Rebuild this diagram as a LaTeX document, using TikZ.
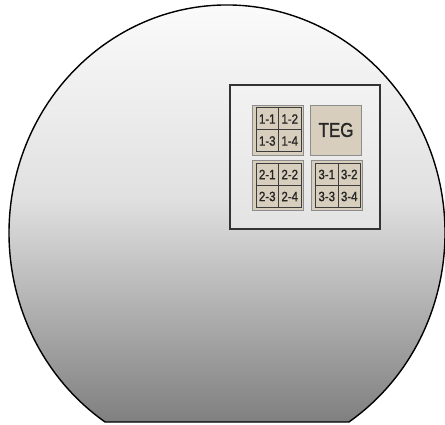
\documentclass[tikz,border=0pt]{standalone}
\usepackage{fontspec}
\setmainfont{Liberation Sans}
\newfontfamily\cellfont[FakeStretch=0.85, FakeBold=1.2]{Liberation Sans}
\usepackage{xcolor}
\usetikzlibrary{positioning, calc}
\definecolor{dietan}{RGB}{216,206,190}
\definecolor{gridline}{RGB}{60,60,60}

\begin{document}
\begin{tikzpicture}[
    x=1pt, y=1pt,
    node distance=0pt,
    wafer/.style={draw=black, line width=1.4pt, top color=white, bottom color=black!50, middle color=black!12},
    chip/.style={rectangle, draw=black!80, line width=1.4pt, top color=black!5, bottom color=black!11, minimum width=150pt, minimum height=144pt, inner sep=0pt},
    die/.style={rectangle, draw=black!45, line width=0.8pt, fill=dietan, minimum width=51pt, minimum height=50pt, inner sep=0pt, outer sep=0pt},
    cell/.style={rectangle, draw=gridline, line width=1pt, fill=dietan, minimum width=22.5pt, minimum height=22pt, inner sep=0pt, outer sep=0pt, text=black!85, font=\cellfont\fontsize{13.5}{13.5}\selectfont}
]
    \useasboundingbox (0,0) rectangle (445,424);

    % Wafer with flat
    \draw[wafer] ({227+218*cos(56)},2) arc[start angle=-56, end angle=236, x radius=218, y radius=228] -- cycle;

    % Chip area
    \node[chip] (chiparea) at (305,267) {};

    % Dies
    \node[die] (die1) at (277.5,294) {};
    \node[die, text=black!85, font=\cellfont\fontsize{20}{20}\selectfont] (teg) at (336,294) {TEG};
    \node[die] (die2) at (277.5,238.5) {};
    \node[die] (die3) at (337,238.5) {};

    \foreach \d in {1,2,3} {
        \node[cell, anchor=south east] (cell\d1) at ($(die\d.center)+(1,0)$) {\d-1};
        \node[cell, right=of cell\d1] (cell\d2) {\d-2};
        \node[cell, below=of cell\d1] (cell\d3) {\d-3};
        \node[cell, right=of cell\d3] (cell\d4) {\d-4};
    }
\end{tikzpicture}
\end{document}
